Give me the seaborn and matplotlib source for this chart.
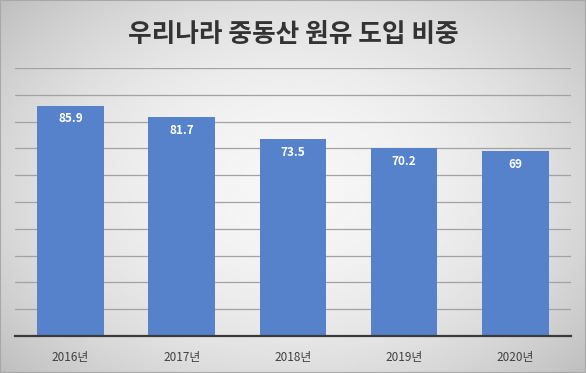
import numpy as np
import pandas as pd
import matplotlib.pyplot as plt
import seaborn as sns

# 데이터
years = ["2016년", "2017년", "2018년", "2019년", "2020년"]
share = [85.9, 81.7, 73.5, 70.2, 69]
labels = ["85.9", "81.7", "73.5", "70.2", "69"]

sns.set_style("white")
plt.rcParams["font.family"] = ["Noto Sans CJK KR", "DejaVu Sans"]

fig = plt.figure(figsize=(5.86, 3.73), dpi=100)

# 배경 그라데이션 (가운데 밝고 가장자리 어두움)
bg = fig.add_axes([0, 0, 1, 1], zorder=0)
gx, gy = np.meshgrid(np.linspace(-1, 1, 300), np.linspace(-1, 1, 200))
r2 = (gx * 0.85) ** 2 + (gy * 0.75) ** 2
shade = np.clip(0.965 - 0.17 * r2, 0, 1)
bg.imshow(shade, cmap="gray", vmin=0, vmax=1, aspect="auto",
          extent=[0, 1, 0, 1], interpolation="bilinear")
bg.set_axis_off()
fig.patches.append(plt.Rectangle((0, 0), 1, 1, transform=fig.transFigure,
                                 fill=False, edgecolor="#a8a8a8", linewidth=1.5, zorder=5))

ax = fig.add_axes([0.0256, 0.0992, 0.9485, 0.7185], zorder=1)
ax.patch.set_alpha(0)

df = pd.DataFrame({"연도": years, "비중": share})
sns.barplot(data=df, x="연도", y="비중", color="#5682cc", saturation=1,
            width=0.6, linewidth=0, ax=ax, zorder=3)

ax.set_ylim(0, 100)
ax.set_yticks(np.arange(0, 101, 10))
ax.yaxis.grid(True, color="#a2a2a2", linewidth=0.9, zorder=0)
ax.set_axisbelow(True)
ax.tick_params(axis="y", left=False, labelleft=False)
ax.tick_params(axis="x", bottom=False, labelsize=8.5, labelcolor="#404040", pad=7)
for s in ["top", "right", "left"]:
    ax.spines[s].set_visible(False)
ax.spines["bottom"].set_color("#3a3a3a")
ax.spines["bottom"].set_linewidth(1.6)
ax.spines["bottom"].set_zorder(4)
ax.set_xlabel("")
ax.set_ylabel("")

for bar, lab in zip(ax.patches, labels):
    ax.annotate(lab, (bar.get_x() + bar.get_width() / 2, bar.get_height()),
                xytext=(0, -9.5), textcoords="offset points",
                ha="center", va="center", color="white", fontsize=8.5,
                fontweight="bold", zorder=5)

fig.text(0.5, 0.908, "우리나라 중동산 원유 도입 비중", ha="center", va="center",
         fontsize=18.5, fontweight="bold", color="#333333")

plt.savefig("out.png", dpi=100)
